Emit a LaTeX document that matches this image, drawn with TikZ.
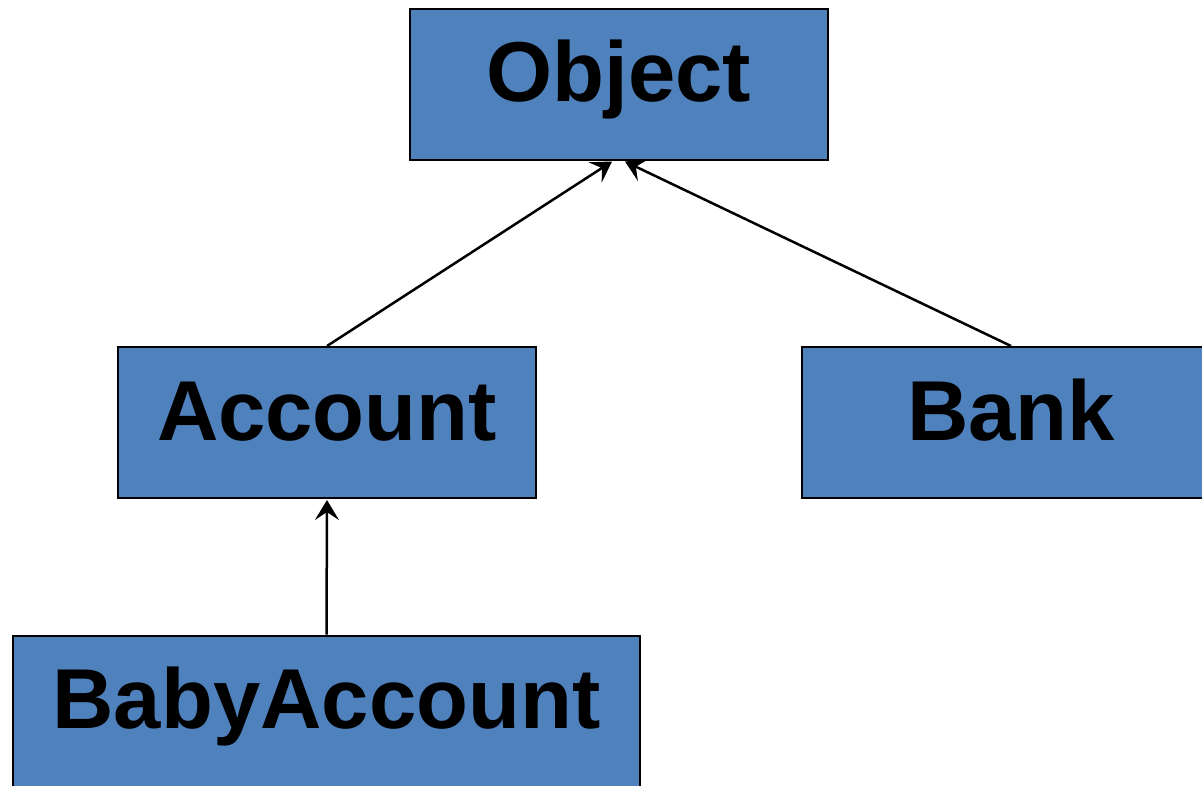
\documentclass[tikz,border=0pt]{standalone}
\usepackage{fontspec}
\setmainfont{Liberation Sans}
\usetikzlibrary{arrows.meta}
\definecolor{classblue}{HTML}{4F81BD}
\begin{document}
\begin{tikzpicture}[x=1pt,y=-1pt,
  classbox/.style={draw=black, line width=2pt, fill=classblue, inner sep=0pt,
    minimum width=418pt, minimum height=151pt,
    text height=61pt, text depth=26pt,
    font=\fontsize{85}{96}\selectfont\bfseries},
  inherits/.style={draw=black, line width=2.5pt,
    -{Stealth[length=20pt, width=24pt, inset=8pt]}}]
  \useasboundingbox (0,0) rectangle (1202,785);
  \clip (0,0) rectangle (1202,785);
  \node[classbox] (obj) at (619,84) {Object};
  \node[classbox] (acc) at (327,422.5) {Account};
  \node[classbox] (bank) at (1011,422.5) {Bank};
  \node[classbox, minimum width=627pt] (baby) at (326.5,711) {BabyAccount};
  \draw[inherits] (acc.north) -- ([xshift=-7pt,yshift=-1pt]obj.south);
  \draw[inherits] (bank.north) -- ([xshift=6pt,yshift=-1pt]obj.south);
  \draw[inherits] (baby.north) -- ([yshift=-1pt]acc.south);
\end{tikzpicture}
\end{document}
